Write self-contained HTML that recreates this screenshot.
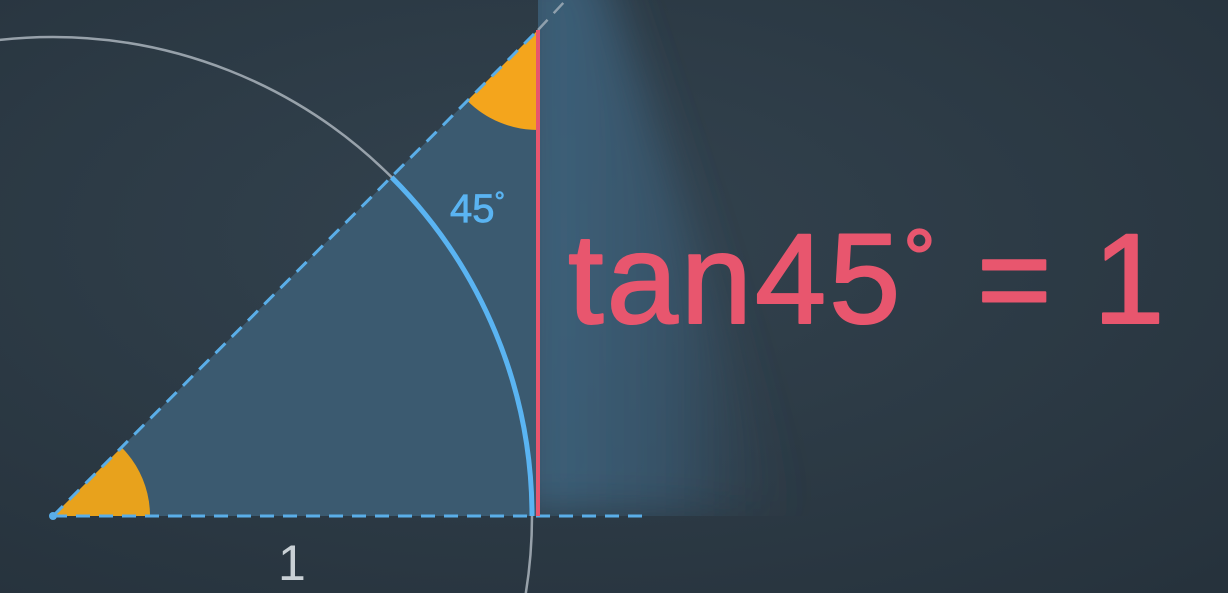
<!DOCTYPE html>
<html><head><meta charset="utf-8"><style>
html,body{margin:0;padding:0;width:1228px;height:593px;overflow:hidden;background:#2b3945}
svg{display:block;overflow:hidden}
</style></head><body>
<svg width="1228" height="593" viewBox="0 0 1228 593">
<defs>
<radialGradient id="bg" cx="0.45" cy="0.4" r="0.8">
<stop offset="0" stop-color="#33434f"/><stop offset="1" stop-color="#26323c"/>
</radialGradient>
<linearGradient id="beam" x1="0" y1="0" x2="1" y2="0">
<stop offset="0" stop-color="#3f6580" stop-opacity="0.95"/>
<stop offset="0.55" stop-color="#3b5c75" stop-opacity="0.7"/>
<stop offset="1" stop-color="#34495a" stop-opacity="0"/>
</linearGradient>
<filter id="blur" x="-20%" y="-20%" width="140%" height="140%"><feGaussianBlur stdDeviation="22"/></filter>
<clipPath id="clipbeam"><rect x="538" y="0" width="400" height="516"/></clipPath>
</defs>
<rect width="1228" height="593" fill="url(#bg)"/>
<g clip-path="url(#clipbeam)">
<polygon points="520,-40 600,-40 790,516 520,516" fill="url(#beam)" filter="url(#blur)"/>
</g>
<polygon points="53,516 538,516 538,30" fill="#3b5a70"/>
<circle cx="53" cy="516" r="479" fill="none" stroke="#aab4bc" stroke-width="2.5" opacity="0.85"/>
<path d="M53,516 L150,516 A97,97 0 0 0 121.6,447.4 Z" fill="#e8a21c"/>
<path d="M538,30 L538,130 A100,100 0 0 1 467.3,100.7 Z" fill="#f4a51c"/>
<line x1="538" y1="30" x2="566" y2="0" stroke="#8fa0ad" stroke-width="2.5" stroke-dasharray="14,9"/>
<line x1="53" y1="516" x2="538" y2="30" stroke="#5aaee8" stroke-width="3" stroke-dasharray="14,9"/>
<line x1="53" y1="516" x2="650" y2="516" stroke="#5aaee8" stroke-width="3" stroke-dasharray="14,9"/>
<path d="M532,516 A479,479 0 0 0 391.7,177.3" fill="none" stroke="#5ab4f2" stroke-width="5"/>
<line x1="538" y1="30" x2="538" y2="516" stroke="#e8566e" stroke-width="4"/>
<circle cx="53" cy="516" r="4" fill="#5aaee8"/>
<text x="450" y="222" font-family="Liberation Sans, sans-serif" font-size="40" fill="#5ab4f2" stroke="#5ab4f2" stroke-width="0.8">45<tspan font-size="26" dy="-12">°</tspan></text>
<text x="568" y="323" font-family="Liberation Sans, sans-serif" font-size="128" letter-spacing="3" fill="#e8566e" stroke="#e8566e" stroke-width="2" stroke-linejoin="round">tan45<tspan font-size="80" dy="-38">°</tspan><tspan dy="38"> = 1</tspan></text>
<text x="278" y="580" font-family="Liberation Sans, sans-serif" font-size="50" fill="#c9d0d5">1</text>
</svg>
</body></html>
